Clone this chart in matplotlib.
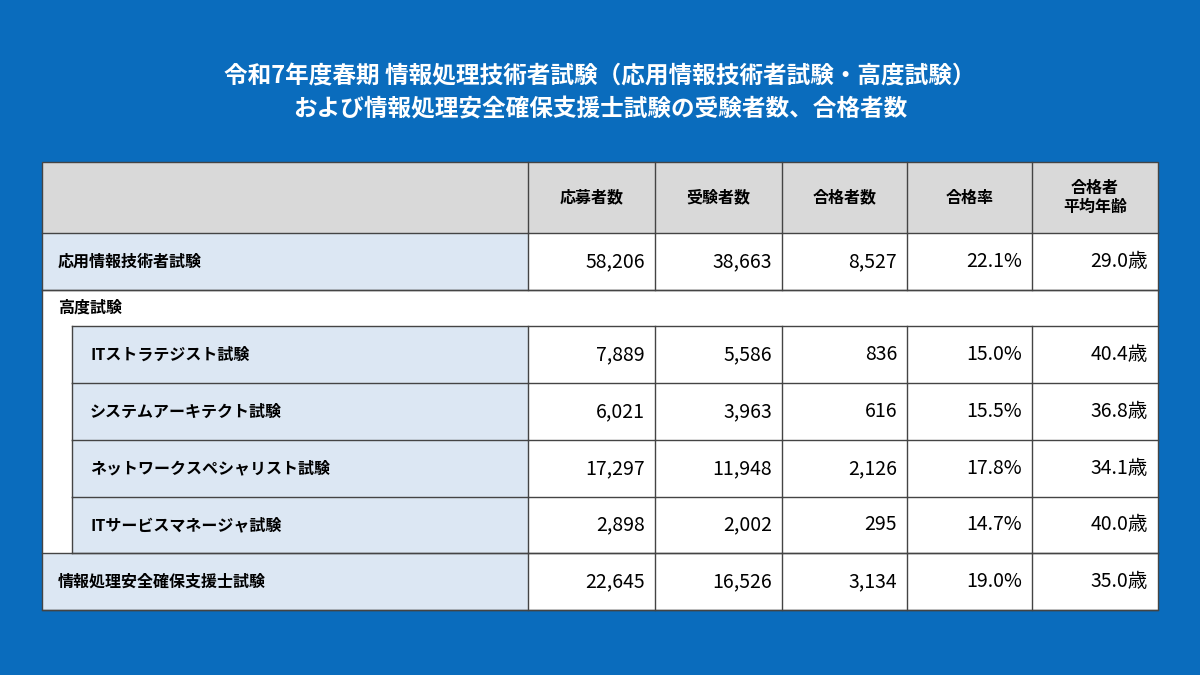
import matplotlib.pyplot as plt
from matplotlib.patches import Rectangle

plt.rcParams['font.family'] = 'Noto Sans CJK JP'

title_lines = ['令和7年度春期 情報処理技術者試験（応用情報技術者試験・高度試験）',
               'および情報処理安全確保支援士試験の受験者数、合格者数']
headers = ['応募者数', '受験者数', '合格者数', '合格率', '合格者\n平均年齢']
exams = ['応用情報技術者試験', 'ITストラテジスト試験', 'システムアーキテクト試験',
         'ネットワークスペシャリスト試験', 'ITサービスマネージャ試験', '情報処理安全確保支援士試験']
indented = [False, True, True, True, True, False]
applicants = [58206, 7889, 6021, 17297, 2898, 22645]
examinees = [38663, 5586, 3963, 11948, 2002, 16526]
passed = [8527, 836, 616, 2126, 295, 3134]
pass_rate = [22.1, 15.0, 15.5, 17.8, 14.7, 19.0]
avg_age = [29.0, 40.4, 36.8, 34.1, 40.0, 35.0]
group_label = '高度試験'

BG = '#0a6cbd'
GRAY = '#d9d9d9'
LBLUE = '#dce7f3'
LINE = '#444444'

fig = plt.figure(figsize=(12, 6.75), dpi=100)
fig.patch.set_facecolor(BG)
ax = fig.add_axes([0, 0, 1, 1])
ax.set_xlim(0, 1200)
ax.set_ylim(675, 0)
ax.axis('off')

for i, t in enumerate(title_lines):
    ax.text(600, 76 + i * 33, t, color='white', fontsize=17, fontweight='bold',
            ha='center', va='center')

cols = [42, 528, 655, 782, 907, 1032, 1158]
top, hdr_bot = 162, 233
row_tops = [233, 326, 383, 440, 497, 553]
row_h = [57, 57, 57, 57, 56, 57]
group_top, group_bot = 290, 326
bottom = 610

# white table base
ax.add_patch(Rectangle((cols[0], top), cols[-1] - cols[0], bottom - top, fc='white', ec='none'))
# header
ax.add_patch(Rectangle((cols[0], top), cols[-1] - cols[0], hdr_bot - top, fc=GRAY, ec='none'))
for j, h in enumerate(headers):
    ax.text((cols[j + 1] + cols[j + 2]) / 2, (top + hdr_bot) / 2, h, fontsize=11.5,
            fontweight='bold', ha='center', va='center', linespacing=1.3)

lw = 1.0
for i, name in enumerate(exams):
    y0, h = row_tops[i], row_h[i]
    x0 = 72 if indented[i] else cols[0]
    ax.add_patch(Rectangle((x0, y0), cols[1] - x0, h, fc=LBLUE, ec='none'))
    ax.text(x0 + (18 if indented[i] else 16), y0 + h / 2, name, fontsize=11.5,
            fontweight='bold', ha='left', va='center')
    vals = [f'{applicants[i]:,}', f'{examinees[i]:,}', f'{passed[i]:,}',
            f'{pass_rate[i]:.1f}%', f'{avg_age[i]:.1f}歳']
    for j, v in enumerate(vals):
        ax.text(cols[j + 2] - 10, y0 + h / 2, v, fontsize=14, ha='right', va='center')
    # row lines
    ax.plot([x0, cols[-1]], [y0 + h, y0 + h], color=LINE, lw=lw)
    for c in cols[1:-1]:
        ax.plot([c, c], [y0, y0 + h], color=LINE, lw=lw)
    if indented[i]:
        ax.plot([72, 72], [y0, y0 + h], color=LINE, lw=lw)

ax.text(58, (group_top + group_bot) / 2, group_label, fontsize=11.5, fontweight='bold',
        ha='left', va='center')
ax.plot([cols[0], cols[-1]], [group_top, group_top], color=LINE, lw=lw)
ax.plot([72, cols[-1]], [group_bot, group_bot], color=LINE, lw=lw)
ax.plot([cols[0], cols[-1]], [row_tops[-1], row_tops[-1]], color=LINE, lw=lw)
ax.plot([cols[0], cols[-1]], [hdr_bot, hdr_bot], color=LINE, lw=lw)
for c in cols[1:-1]:
    ax.plot([c, c], [top, hdr_bot], color=LINE, lw=lw)
ax.add_patch(Rectangle((cols[0], top), cols[-1] - cols[0], bottom - top, fc='none', ec=LINE, lw=lw))

fig.savefig('out.png', dpi=100, facecolor=BG)
